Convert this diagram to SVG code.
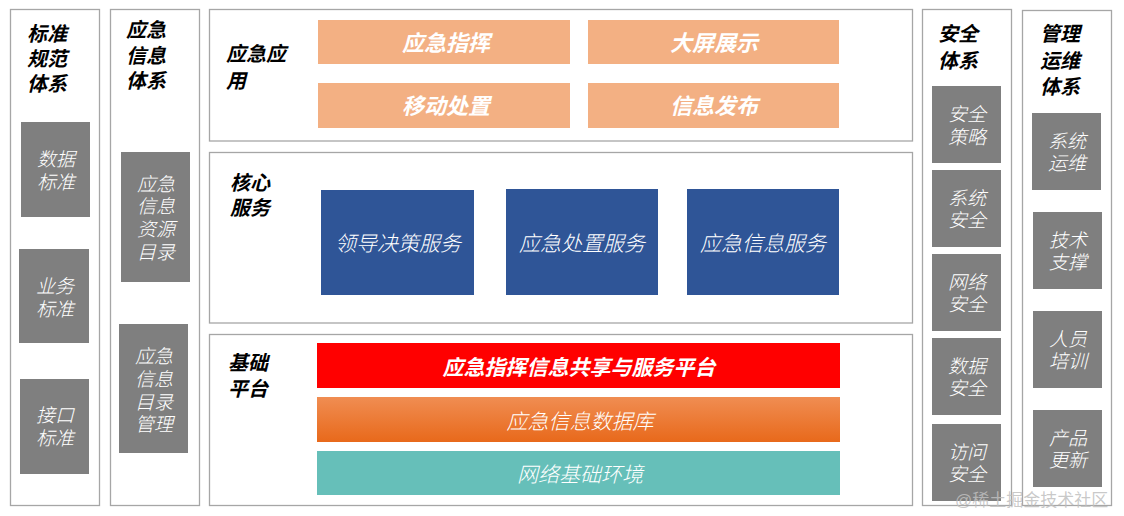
<svg xmlns="http://www.w3.org/2000/svg" width="1124" height="516" viewBox="0 0 1124 516">
<defs>
<linearGradient id="gOrange" x1="0" y1="0" x2="0" y2="1">
<stop offset="0" stop-color="#F08D52"/>
<stop offset="1" stop-color="#E8691B"/>
</linearGradient>
<style>
text{font-family:"Liberation Sans","Noto Sans CJK SC",sans-serif;dominant-baseline:central}
.frame{fill:#fff;stroke:#A6A6A6;stroke-width:1.3}
.title{font-size:20px;font-weight:bold;font-style:italic;fill:#000}
.gray{fill:#7F7F7F}
.gt{font-size:19px;font-weight:300;font-style:italic;fill:#fff;text-anchor:middle}
.app{fill:#F3B083}
.appt{font-size:22px;font-weight:bold;font-style:italic;fill:#fff;text-anchor:middle}
.svc{fill:#2F5597}
.svct{font-size:21px;font-weight:300;font-style:italic;fill:#fff;text-anchor:middle}
.bart{font-size:21px;font-style:italic;fill:#fff;text-anchor:middle}
</style>
</defs>
<rect width="1124" height="516" fill="#fff"/>

<g id="col-standard">
<rect class="frame" x="10.5" y="9.5" width="89" height="496"/>
<text class="title"><tspan x="27" y="34">标准</tspan><tspan x="27" y="59">规范</tspan><tspan x="27" y="84">体系</tspan></text>
<g id="n-data-std"><rect class="gray" x="21" y="122" width="69" height="95"/>
<text class="gt"><tspan x="56" y="159">数据</tspan><tspan x="56" y="182">标准</tspan></text></g>
<g id="n-biz-std"><rect class="gray" x="19" y="249" width="70" height="94"/>
<text class="gt"><tspan x="55" y="286">业务</tspan><tspan x="55" y="309">标准</tspan></text></g>
<g id="n-if-std"><rect class="gray" x="20" y="379" width="69" height="95"/>
<text class="gt"><tspan x="55" y="415">接口</tspan><tspan x="55" y="438">标准</tspan></text></g>
</g>

<g id="col-info">
<rect class="frame" x="110.5" y="9.5" width="89" height="496"/>
<text class="title"><tspan x="126" y="30">应急</tspan><tspan x="126" y="56">信息</tspan><tspan x="126" y="81">体系</tspan></text>
<g id="n-res-catalog"><rect class="gray" x="121" y="152" width="69" height="130"/>
<text class="gt"><tspan x="156" y="184">应急</tspan><tspan x="156" y="206">信息</tspan><tspan x="156" y="229">资源</tspan><tspan x="156" y="252">目录</tspan></text></g>
<g id="n-catalog-mgmt"><rect class="gray" x="119" y="324" width="69" height="129"/>
<text class="gt"><tspan x="154" y="356">应急</tspan><tspan x="154" y="379">信息</tspan><tspan x="154" y="402">目录</tspan><tspan x="154" y="424">管理</tspan></text></g>
</g>

<g id="layer-app">
<rect class="frame" x="209.5" y="9.5" width="703" height="131.5"/>
<text class="title"><tspan x="226" y="54">应急应</tspan><tspan x="226" y="81">用</tspan></text>
<g id="n-command"><rect class="app" x="318" y="20" width="252" height="44"/><text class="appt" x="446" y="43">应急指挥</text></g>
<g id="n-screen"><rect class="app" x="588" y="20" width="251" height="44"/><text class="appt" x="714" y="43">大屏展示</text></g>
<g id="n-mobile"><rect class="app" x="318" y="83" width="252" height="45"/><text class="appt" x="446" y="106">移动处置</text></g>
<g id="n-publish"><rect class="app" x="588" y="83" width="251" height="45"/><text class="appt" x="714" y="106">信息发布</text></g>
</g>

<g id="layer-core">
<rect class="frame" x="209.5" y="152.5" width="703" height="170.5"/>
<text class="title"><tspan x="230" y="183">核心</tspan><tspan x="230" y="208">服务</tspan></text>
<g id="n-decision"><rect class="svc" x="321" y="190" width="153" height="105"/><text class="svct" x="398" y="243">领导决策服务</text></g>
<g id="n-disposal"><rect class="svc" x="506" y="189" width="152" height="106"/><text class="svct" x="582" y="243">应急处置服务</text></g>
<g id="n-infosvc"><rect class="svc" x="687" y="189" width="152" height="106"/><text class="svct" x="763" y="243">应急信息服务</text></g>
</g>

<g id="layer-base">
<rect class="frame" x="209.5" y="334.5" width="703" height="171"/>
<text class="title"><tspan x="228" y="363">基础</tspan><tspan x="228" y="389">平台</tspan></text>
<g id="n-platform"><rect x="317" y="343" width="523" height="45" fill="#FF0000"/><text class="bart" x="579" y="367" font-weight="bold">应急指挥信息共享与服务平台</text></g>
<g id="n-database"><rect x="317" y="397" width="523" height="45" fill="url(#gOrange)"/><text class="bart" x="580" y="421" font-weight="300">应急信息数据库</text></g>
<g id="n-network"><rect x="317" y="451" width="523" height="44" fill="#66BFB9"/><text class="bart" x="580" y="474" font-weight="300">网络基础环境</text></g>
</g>

<g id="col-security">
<rect class="frame" x="922.5" y="9.5" width="89" height="496"/>
<text class="title"><tspan x="938" y="34">安全</tspan><tspan x="938" y="61">体系</tspan></text>
<g id="n-sec-policy"><rect class="gray" x="932" y="86" width="69" height="77"/>
<text class="gt"><tspan x="967" y="114">安全</tspan><tspan x="967" y="137">策略</tspan></text></g>
<g id="n-sys-sec"><rect class="gray" x="932" y="170" width="69" height="77"/>
<text class="gt"><tspan x="967" y="198">系统</tspan><tspan x="967" y="220">安全</tspan></text></g>
<g id="n-net-sec"><rect class="gray" x="932" y="254" width="69" height="77"/>
<text class="gt"><tspan x="967" y="282">网络</tspan><tspan x="967" y="304">安全</tspan></text></g>
<g id="n-data-sec"><rect class="gray" x="932" y="338" width="69" height="77"/>
<text class="gt"><tspan x="967" y="366">数据</tspan><tspan x="967" y="388">安全</tspan></text></g>
<g id="n-acc-sec"><rect class="gray" x="932" y="424" width="69" height="77"/>
<text class="gt"><tspan x="967" y="452">访问</tspan><tspan x="967" y="474">安全</tspan></text></g>
</g>

<g id="col-ops">
<rect class="frame" x="1022.5" y="10.5" width="89" height="495"/>
<text class="title"><tspan x="1040" y="34">管理</tspan><tspan x="1040" y="61">运维</tspan><tspan x="1040" y="87">体系</tspan></text>
<g id="n-sys-ops"><rect class="gray" x="1032" y="113" width="69" height="77"/>
<text class="gt"><tspan x="1067" y="141">系统</tspan><tspan x="1067" y="163">运维</tspan></text></g>
<g id="n-tech"><rect class="gray" x="1033" y="212" width="69" height="77"/>
<text class="gt"><tspan x="1068" y="240">技术</tspan><tspan x="1068" y="262">支撑</tspan></text></g>
<g id="n-train"><rect class="gray" x="1033" y="311" width="69" height="77"/>
<text class="gt"><tspan x="1068" y="339">人员</tspan><tspan x="1068" y="361">培训</tspan></text></g>
<g id="n-update"><rect class="gray" x="1033" y="410" width="69" height="77"/>
<text class="gt"><tspan x="1068" y="438">产品</tspan><tspan x="1068" y="460">更新</tspan></text></g>
</g>

<g id="connectors"></g>

<text x="955" y="500" font-size="17" fill="#BFBFBF" fill-opacity="0.85">@稀土掘金技术社区</text>
</svg>
